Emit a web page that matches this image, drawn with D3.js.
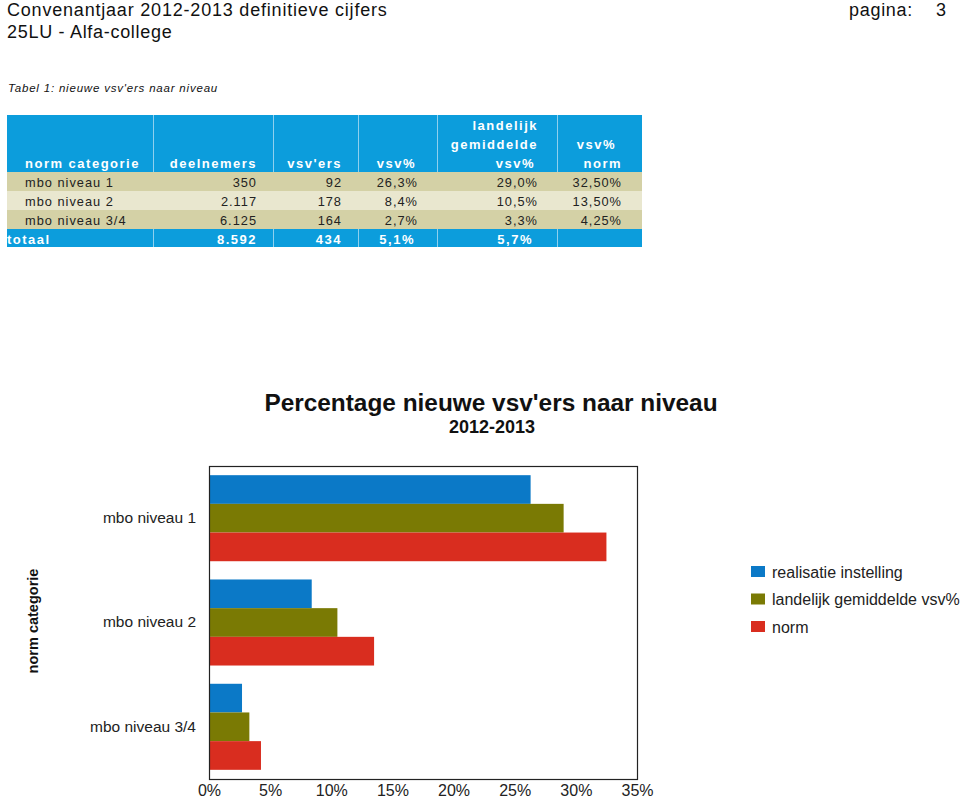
<!DOCTYPE html>
<html>
<head>
<meta charset="utf-8">
<script src="https://cdn.jsdelivr.net/npm/d3@7"></script>
<style>
  html, body { margin: 0; padding: 0; background: #fff; }
  svg { display: block; font-family: "Liberation Sans", Arial, sans-serif; }
</style>
</head>
<body>
<svg id="chart" width="960" height="799"></svg>
<script>
// ---------- data ----------
const categories = ["mbo niveau 1", "mbo niveau 2", "mbo niveau 3/4"];
const seriesNames = ["realisatie instelling", "landelijk gemiddelde vsv%", "norm"];
const realisatie = [26.3, 8.4, 2.7];
const landelijk = [29.0, 10.5, 3.3];
const norm = [32.5, 13.5, 4.25];
const xTicks = [0, 5, 10, 15, 20, 25, 30, 35];

const tableDeelnemers = ["350", "2.117", "6.125"];
const tableVsvers = ["92", "178", "164"];
const tableVsvPct = ["26,3%", "8,4%", "2,7%"];
const tableLandelijk = ["29,0%", "10,5%", "3,3%"];
const tableNorm = ["32,50%", "13,50%", "4,25%"];
const tableTotal = ["totaal", "8.592", "434", "5,1%", "5,7%", ""];

const colors = ["#0b79c7", "#7a7a04", "#d92d1f"];

const svg = d3.select("#chart");

// ---------- page header ----------
svg.append("text").attr("x", 7).attr("y", 16).attr("font-size", 18).attr("fill", "#111")
  .attr("letter-spacing", 0.8).text("Convenantjaar 2012-2013 definitieve cijfers");
svg.append("text").attr("x", 7).attr("y", 38).attr("font-size", 18).attr("fill", "#111")
  .attr("letter-spacing", 0.7).text("25LU - Alfa-college");
svg.append("text").attr("x", 849).attr("y", 16).attr("font-size", 18).attr("fill", "#111")
  .attr("letter-spacing", 0.7).text("pagina:");
svg.append("text").attr("x", 946).attr("y", 16).attr("font-size", 18).attr("fill", "#111")
  .attr("text-anchor", "end").text("3");
svg.append("text").attr("x", 8).attr("y", 92).attr("font-size", 11.5).attr("font-style", "italic")
  .attr("fill", "#111").attr("letter-spacing", 0.8).text("Tabel 1: nieuwe vsv'ers naar niveau");

// ---------- table ----------
const colX = [7, 153, 273, 358, 437, 557, 642];
const rowY = [115, 172, 191, 210, 229, 247];
const blue = "#0c9ddc";
const rowFill = ["#d4d1a6", "#e9e7cf", "#d4d1a6"];
const tbl = svg.append("g");
tbl.append("rect").attr("x", colX[0]).attr("y", rowY[0]).attr("width", colX[6] - colX[0])
  .attr("height", rowY[1] - rowY[0]).attr("fill", blue);
rowFill.forEach((f, i) => {
  tbl.append("rect").attr("x", colX[0]).attr("y", rowY[i + 1]).attr("width", colX[6] - colX[0])
    .attr("height", rowY[i + 2] - rowY[i + 1]).attr("fill", f);
});
tbl.append("rect").attr("x", colX[0]).attr("y", rowY[4]).attr("width", colX[6] - colX[0])
  .attr("height", rowY[5] - rowY[4]).attr("fill", blue);
colX.slice(1, 6).forEach(x => {
  [[rowY[0], rowY[1]], [rowY[4], rowY[5]]].forEach(([a, b]) => {
    tbl.append("line").attr("x1", x + 0.5).attr("x2", x + 0.5).attr("y1", a).attr("y2", b)
      .attr("stroke", "#8fd0ee").attr("stroke-width", 1);
  });
});
const rightX = [null, 257, 342, 418, 538, 622];
function cell(x, y, txt, anchor, bold, fill) {
  tbl.append("text").attr("x", x).attr("y", y).attr("text-anchor", anchor)
    .attr("font-size", bold ? 13 : 12.8).attr("font-weight", bold ? "bold" : "normal")
    .attr("letter-spacing", bold ? 1.5 : 1).attr("fill", fill).text(txt);
}
// header
cell(25, 168, "norm categorie", "start", true, "#fff");
cell(rightX[1], 168, "deelnemers", "end", true, "#fff");
cell(rightX[2], 168, "vsv'ers", "end", true, "#fff");
cell(rightX[3] - 2, 168, "vsv%", "end", true, "#fff");
cell(rightX[4], 130, "landelijk", "end", true, "#fff");
cell(rightX[4], 149, "gemiddelde", "end", true, "#fff");
cell(rightX[4] - 3, 168, "vsv%", "end", true, "#fff");
cell(rightX[5] - 6, 149, "vsv%", "end", true, "#fff");
cell(rightX[5], 168, "norm", "end", true, "#fff");
// data rows
const baseY = [187, 206, 225];
categories.forEach((c, i) => {
  cell(25, baseY[i], c, "start", false, "#222");
  cell(rightX[1], baseY[i], tableDeelnemers[i], "end", false, "#222");
  cell(rightX[2], baseY[i], tableVsvers[i], "end", false, "#222");
  cell(rightX[3], baseY[i], tableVsvPct[i], "end", false, "#222");
  cell(rightX[4], baseY[i], tableLandelijk[i], "end", false, "#222");
  cell(rightX[5], baseY[i], tableNorm[i], "end", false, "#222");
});
// total row
cell(7, 244, tableTotal[0], "start", true, "#fff");
tableTotal.slice(1).forEach((t, j) => {
  const adj = j === 2 ? -3 : (j === 3 ? -5 : 0);
  cell(rightX[j + 1] + adj, 244, t, "end", true, "#fff");
});

// ---------- chart ----------
const plot = { left: 209, right: 637, top: 466, bottom: 779 };
const x = d3.scaleLinear().domain([0, 35]).range([plot.left, plot.right]);
const y0 = d3.scaleBand().domain(categories).range([plot.top, plot.bottom])
  .paddingInner(0.175).paddingOuter(0.088);
const y1 = d3.scaleBand().domain(seriesNames).range([0, y0.bandwidth()]);

svg.append("text").attr("x", 491).attr("y", 411).attr("text-anchor", "middle")
  .attr("font-size", 24.4).attr("font-weight", "bold").attr("fill", "#111")
  .text("Percentage nieuwe vsv'ers naar niveau");
svg.append("text").attr("x", 492).attr("y", 433).attr("text-anchor", "middle")
  .attr("font-size", 18).attr("font-weight", "bold").attr("fill", "#111")
  .text("2012-2013");

const data = categories.map((c, i) => ({
  cat: c,
  values: [realisatie[i], landelijk[i], norm[i]].map((v, k) => ({ name: seriesNames[k], v, k }))
}));

const groups = svg.append("g").selectAll("g").data(data).join("g")
  .attr("transform", d => `translate(0,${y0(d.cat)})`);
groups.selectAll("rect").data(d => d.values).join("rect")
  .attr("x", x(0)).attr("y", d => y1(d.name))
  .attr("width", d => x(d.v) - x(0)).attr("height", y1.bandwidth())
  .attr("fill", d => colors[d.k]);

svg.append("rect").attr("x", plot.left + 0.5).attr("y", plot.top + 0.5)
  .attr("width", plot.right - plot.left).attr("height", plot.bottom - plot.top)
  .attr("fill", "none").attr("stroke", "#222").attr("stroke-width", 1.2);

const xAxis = d3.axisBottom(x).tickValues(xTicks).tickSize(0).tickPadding(6)
  .tickFormat(d => d + "%");
const gx = svg.append("g").attr("transform", `translate(0,${plot.bottom})`).call(xAxis);
gx.select(".domain").remove();
gx.selectAll("text").attr("font-size", 16).attr("fill", "#222")
  .attr("font-family", "'Liberation Sans', Arial, sans-serif");

const yAxis = d3.axisLeft(y0).tickSize(0).tickPadding(13);
const gy = svg.append("g").attr("transform", `translate(${plot.left},0)`).call(yAxis);
gy.select(".domain").remove();
gy.selectAll("text").attr("font-size", 15.5).attr("fill", "#222")
  .attr("font-family", "'Liberation Sans', Arial, sans-serif");

svg.append("text").attr("transform", "translate(38,621) rotate(-90)")
  .attr("text-anchor", "middle").attr("font-size", 14.5).attr("font-weight", "bold")
  .attr("fill", "#111").text("norm categorie");

const leg = svg.append("g").attr("transform", "translate(751,566)");
seriesNames.forEach((n, k) => {
  const g = leg.append("g").attr("transform", `translate(0,${k * 27.5})`);
  g.append("rect").attr("width", 14).attr("height", 11).attr("fill", colors[k]);
  g.append("text").attr("x", 21).attr("y", 11.5).attr("font-size", 16).attr("fill", "#222").text(n);
});
</script>
</body>
</html>
